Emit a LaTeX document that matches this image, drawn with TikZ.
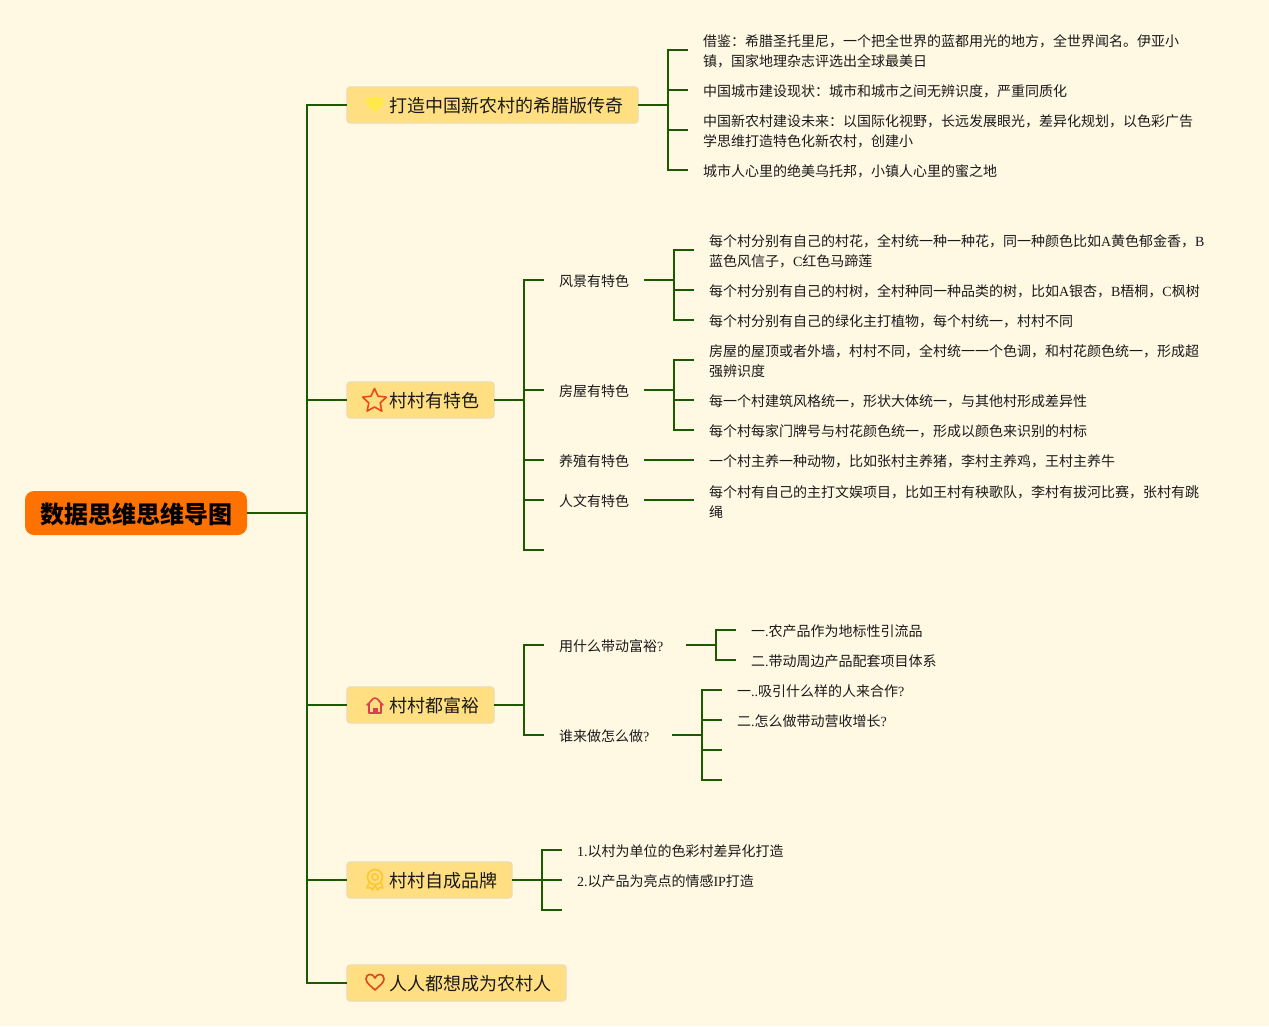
\documentclass[tikz,border=0pt]{standalone}
\usepackage{fontspec}
\setmainfont{Noto Sans CJK SC}
\newfontfamily\lat{Liberation Serif}
\usetikzlibrary{calc}
\definecolor{bgc}{HTML}{FFF8E3}
\definecolor{linec}{HTML}{1B5A00}
\definecolor{rootc}{HTML}{FF7200}
\definecolor{boxc}{HTML}{FFDF82}
\definecolor{boxb}{HTML}{EBDCAE}
\definecolor{txtc}{HTML}{1A1A1A}
\definecolor{gemc}{HTML}{FFE94A}
\definecolor{starc}{HTML}{E8481C}
\definecolor{housec}{HTML}{DC4048}
\definecolor{medalc}{HTML}{FFC62E}
\definecolor{heartc}{HTML}{D9481E}
\newcommand{\ms}{\rule[-0.4pt]{0pt}{15.4pt}}
\newcommand{\bs}{\rule[-1pt]{0pt}{17.7pt}}
\newcommand{\rs}{\rule[-1pt]{0pt}{25pt}}
\newcommand{\twol}[2]{\ms #1\\\ms #2}
\newcommand{\la}[1]{{\lat #1}}
\tikzset{
  x=1pt,y=-1pt,
  conn/.style={draw=linec,line width=2pt,line cap=butt,line join=miter},
  rootbox/.style={anchor=west,fill=rootc,draw=none,rounded corners=9pt,minimum width=222pt,minimum height=44pt,inner xsep=0pt,inner ysep=0pt,outer sep=0pt,align=center,font=\fontsize{24pt}{28pt}\selectfont\bfseries,text=black},
  branchbox/.style={anchor=west,fill=boxc,draw=boxb,line width=1.2pt,rounded corners=3pt,minimum height=36pt,inner xsep=15pt,inner ysep=0pt,outer sep=0pt,font=\fontsize{18pt}{22pt}\selectfont,text=txtc},
  leaf/.style={anchor=west,inner xsep=15pt,inner ysep=0pt,outer sep=0pt,align=left,font=\fontsize{14pt}{20pt}\selectfont,text=txtc},
  iconline/.style={line width=1.6pt,line join=round,line cap=round,fill=none},
}
\begin{document}
\begin{tikzpicture}
\useasboundingbox[fill=bgc] (0,0) rectangle (1269,1026);
% root and branches
\node[rootbox] (root) at (25,513) {\rs 数据思维思维导图};
\node[branchbox] (b1) at (347,105) {\bs\hspace*{27pt}打造中国新农村的希腊版传奇};
\node[branchbox] (b2) at (347,400) {\bs\hspace*{27pt}村村有特色};
\node[branchbox] (b3) at (347,705) {\bs\hspace*{27pt}村村都富裕};
\node[branchbox] (b4) at (347,880) {\bs\hspace*{27pt}村村自成品牌};
\node[branchbox] (b5) at (347,983) {\bs\hspace*{27pt}人人都想成为农村人};
% branch 1 leaves
\node[leaf] (a1) at (688,50) {\twol{借鉴：希腊圣托里尼，一个把全世界的蓝都用光的地方，全世界闻名。伊亚小}{镇，国家地理杂志评选出全球最美日}};
\node[leaf] (a2) at (688,90) {\ms 中国城市建设现状：城市和城市之间无辨识度，严重同质化};
\node[leaf] (a3) at (688,130) {\twol{中国新农村建设未来：以国际化视野，长远发展眼光，差异化规划，以色彩广告}{学思维打造特色化新农村，创建小}};
\node[leaf] (a4) at (688,170) {\ms 城市人心里的绝美乌托邦，小镇人心里的蜜之地};
% branch 2
\node[leaf] (s1) at (544,280) {\ms 风景有特色};
\node[leaf] (s2) at (544,390) {\ms 房屋有特色};
\node[leaf] (s3) at (544,460) {\ms 养殖有特色};
\node[leaf] (s4) at (544,500) {\ms 人文有特色};
\coordinate (s5) at (544,550);
\node[leaf] (c1) at (694,250) {\twol{每个村分别有自己的村花，全村统一种一种花，同一种颜色比如\la{A}黄色郁金香，\la{B}}{蓝色风信子，\la{C}红色马蹄莲}};
\node[leaf] (c2) at (694,290) {\ms 每个村分别有自己的村树，全村种同一种品类的树，比如\la{A}银杏，\la{B}梧桐，\la{C}枫树};
\node[leaf] (c3) at (694,320) {\ms 每个村分别有自己的绿化主打植物，每个村统一，村村不同};
\node[leaf] (d1) at (694,360) {\twol{房屋的屋顶或者外墙，村村不同，全村统一一个色调，和村花颜色统一，形成超}{强辨识度}};
\node[leaf] (d2) at (694,400) {\ms 每一个村建筑风格统一，形状大体统一，与其他村形成差异性};
\node[leaf] (d3) at (694,430) {\ms 每个村每家门牌号与村花颜色统一，形成以颜色来识别的村标};
\node[leaf] (e1) at (694,460) {\ms 一个村主养一种动物，比如张村主养猪，李村主养鸡，王村主养牛};
\node[leaf] (f1) at (694,500) {\twol{每个村有自己的主打文娱项目，比如王村有秧歌队，李村有拔河比赛，张村有跳}{绳}};
% branch 3
\node[leaf] (t1) at (544,645) {\ms 用什么带动富裕\la{?}\hspace*{8pt}};
\node[leaf] (t2) at (544,735) {\ms 谁来做怎么做\la{?}\hspace*{8pt}};
\node[leaf] (g1) at (736,630) {\ms 一\la{.}农产品作为地标性引流品};
\node[leaf] (g2) at (736,660) {\ms 二\la{.}带动周边产品配套项目体系};
\node[leaf] (h1) at (722,690) {\ms 一\la{..}吸引什么样的人来合作\la{?}};
\node[leaf] (h2) at (722,720) {\ms 二\la{.}怎么做带动营收增长\la{?}};
\coordinate (h3) at (722,750);
\coordinate (h4) at (722,780);
% branch 4
\node[leaf] (k1) at (562,850) {\ms \la{1.}以村为单位的色彩村差异化打造};
\node[leaf] (k2) at (562,880) {\ms \la{2.}以产品为亮点的情感\la{IP}打造};
\coordinate (k3) at (562,910);
% connectors
\draw[conn] (root.east) -- ++(60,0) coordinate (trunk);
\draw[conn] (b1.west) -| (trunk);
\draw[conn] (b2.west) -| (trunk);
\draw[conn] (b3.west) -| (trunk);
\draw[conn] (b4.west) -| (trunk);
\draw[conn] (b5.west) -| (trunk);
\foreach \c in {a1,a2,a3,a4} {\draw[conn] (b1.east) -- ++(30,0) |- (\c.west);}
\foreach \c in {s1,s2,s3,s4} {\draw[conn] (b2.east) -- ++(30,0) |- (\c.west);}
\draw[conn] (b2.east) -- ++(30,0) |- (s5);
\foreach \c in {c1,c2,c3} {\draw[conn] (s1.east) -- ++(30,0) |- (\c.west);}
\foreach \c in {d1,d2,d3} {\draw[conn] (s2.east) -- ++(30,0) |- (\c.west);}
\draw[conn] (s3.east) -- (e1.west);
\draw[conn] (s4.east) -- (f1.west);
\foreach \c in {t1,t2} {\draw[conn] (b3.east) -- ++(30,0) |- (\c.west);}
\foreach \c in {g1,g2} {\draw[conn] (t1.east) -- ++(30,0) |- (\c.west);}
\foreach \c in {h1,h2} {\draw[conn] (t2.east) -- ++(30,0) |- (\c.west);}
\draw[conn] (t2.east) -- ++(30,0) |- (h3);
\draw[conn] (t2.east) -- ++(30,0) |- (h4);
\foreach \c in {k1,k2} {\draw[conn] (b4.east) -- ++(30,0) |- (\c.west);}
\draw[conn] (b4.east) -- ++(30,0) |- (k3);
% icons
\fill[gemc,rounded corners=1.5pt] (368,97) -- (382,97) -- (385,102) -- (375,113) -- (365,102) -- cycle;
\begin{scope}[shift={(374.5,401)}]
\draw[iconline,draw=starc]
  (270:12.5) -- (306:6) -- (342:12.5) -- (18:6) -- (54:12.5) -- (90:6) -- (126:12.5) -- (162:6) -- (198:12.5) -- (234:6) -- cycle;
\end{scope}
\begin{scope}[shift={(375,706)}]
\draw[iconline,draw=housec] (-8,-1) .. controls (-4,-4) and (-3,-8) .. (0,-8) .. controls (3,-8) and (4,-4) .. (8,-1) (-6,-2) -- (-6,7) -- (6,7) -- (6,-2);
\fill[housec] (-2.5,7) -- (-2.5,2) -- (2.5,2) -- (2.5,7) -- cycle;
\end{scope}
\begin{scope}[shift={(375,878)}]
\draw[line width=1.7pt,draw=medalc,fill=none] (0,-1) circle (7.5);
\draw[line width=1.5pt,draw=medalc,fill=none] (0,-1) circle (3.2);
\draw[iconline,line width=1.6pt,draw=medalc] (-6,5) -- (-8,10) -- (-4.5,9.5) -- (-2.5,12) -- (0,7) -- (2.5,12) -- (4.5,9.5) -- (8,10) -- (6,5);
\end{scope}
\begin{scope}[shift={(375,982)}]
\draw[iconline,draw=heartc] (0,8) .. controls (-4,4) and (-9,1) .. (-9,-3) .. controls (-9,-9) and (-2,-9) .. (0,-4) .. controls (2,-9) and (9,-9) .. (9,-3) .. controls (9,1) and (4,4) .. (0,8) -- cycle;
\end{scope}
\end{tikzpicture}
\end{document}
